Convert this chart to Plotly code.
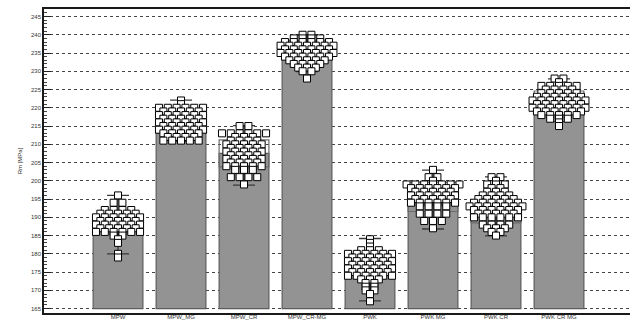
import plotly.graph_objects as go

# Tensile strength Rm per material variant
categories = ["MPW", "MPW_MG", "MPW_CR", "MPW_CR-MG", "PWK", "PWK MG", "PWK CR", "PWK CR MG"]

means = [188.3, 216.0, 207.5, 235.8, 176.2, 195.6, 191.5, 222.1]
box_half = [2.0, 3.0, 3.7, 2.5, 3.0, 4.0, 3.0, 2.5]
whisker_lo = [180.0, 210.8, 198.8, 229.9, 167.1, 186.8, 184.9, 216.2]
whisker_hi = [196.0, 222.1, 215.1, 240.0, 184.2, 202.9, 201.1, 227.9]

rm_mpw = [196, 194, 194, 192, 192, 192, 192,
          191, 191, 191, 191, 191, 190, 190, 190, 190, 190, 190,
          189, 189, 189, 189, 189, 188, 188, 188, 188, 188, 188,
          187, 187, 187, 187, 187, 186, 186, 186, 186, 186, 186,
          185, 185, 184, 183, 180, 179]
rm_mpw_mg = [222, 221, 220, 220, 220, 220, 220, 220, 219, 219, 219, 219, 219,
             218, 218, 218, 218, 218, 218, 217, 217, 217, 217, 217,
             216, 216, 216, 216, 216, 216, 215, 215, 215, 215, 215,
             214, 214, 214, 214, 214, 214, 213, 213, 213, 213, 213,
             212, 212, 212, 212, 211, 211, 211, 211, 211]
rm_mpw_cr = [215, 215, 213, 213, 213, 213, 213, 213, 212, 212, 212,
             211, 211, 211, 211, 210, 210, 210, 210, 210,
             209, 209, 209, 209, 208, 208, 208, 208, 208,
             207, 207, 207, 207, 206, 206, 206, 206, 206,
             205, 205, 205, 205, 204, 204, 204, 204, 204, 203, 203, 203,
             201, 201, 201, 201, 199]
rm_mpw_cr_mg = [240, 240, 239, 239, 239, 239, 238, 238, 238, 238, 238, 238,
                237, 237, 237, 237, 237, 237, 237, 236, 236, 236, 236, 236, 236,
                235, 235, 235, 235, 235, 235, 235, 234, 234, 234, 234, 234, 234,
                233, 233, 233, 233, 233, 232, 232, 232, 232, 231, 231, 231, 230, 230, 228]
rm_pwk = [184, 183, 182, 181, 181, 181, 180, 180, 180, 180, 180, 180,
          179, 179, 179, 179, 179, 178, 178, 178, 178, 178, 178,
          177, 177, 177, 177, 177, 176, 176, 176, 176, 176, 176,
          175, 175, 175, 175, 175, 174, 174, 174, 174, 174, 174,
          173, 173, 173, 172, 172, 171, 171, 170, 170, 169, 167]
rm_pwk_mg = [203, 201, 201, 200, 199, 199, 199, 199, 199, 199, 199,
             198, 198, 198, 198, 198, 198, 197, 197, 197, 197, 197,
             196, 196, 196, 196, 196, 196, 195, 195, 195, 195, 195,
             194, 194, 194, 194, 194, 194, 193, 193, 193, 193,
             191, 191, 191, 191, 189, 189, 189, 187]
rm_pwk_cr = [201, 201, 200, 199, 199, 199, 198, 198, 197, 197, 197,
             196, 196, 196, 196, 195, 195, 195, 195, 195,
             194, 194, 194, 194, 194, 194, 193, 193, 193, 193, 193, 193, 193,
             192, 192, 192, 192, 192, 192, 191, 191, 191, 191, 191,
             190, 190, 190, 190, 190, 190, 188, 188, 188, 188,
             187, 187, 187, 186, 186, 185]
rm_pwk_cr_mg = [228, 228, 227, 226, 226, 226, 226, 226, 225, 225, 225, 225,
                224, 224, 224, 224, 224, 223, 223, 223, 223, 223, 223,
                222, 222, 222, 222, 222, 222, 222, 221, 221, 221, 221, 221, 221,
                220, 220, 220, 220, 220, 220, 220, 219, 219, 219, 219, 219, 219,
                218, 218, 218, 218, 218, 217, 217, 217, 216, 215]

samples = [rm_mpw, rm_mpw_mg, rm_mpw_cr, rm_mpw_cr_mg,
           rm_pwk, rm_pwk_mg, rm_pwk_cr, rm_pwk_cr_mg]

Y_BASE = 165
positions = list(range(len(categories)))

fig = go.Figure()

# mean bars starting at the axis floor
fig.add_trace(go.Bar(
    x=positions, y=[m - Y_BASE for m in means], base=Y_BASE, width=0.79,
    marker=dict(color="#939393", line=dict(color="#5c5c5c", width=1.2)),
    showlegend=False, hoverinfo="skip"))

# mean +/- spread outline box
fig.add_trace(go.Bar(
    x=positions, y=[2 * h for h in box_half],
    base=[m - h for m, h in zip(means, box_half)], width=0.79,
    marker=dict(color="rgba(0,0,0,0)", line=dict(color="#6e6e6e", width=1.2)),
    showlegend=False, hoverinfo="skip"))
fig.update_layout(barmode="overlay")

# whiskers with caps
fig.add_trace(go.Scatter(
    x=positions, y=means, mode="markers",
    marker=dict(size=1, color="rgba(0,0,0,0)"),
    error_y=dict(type="data", symmetric=False,
                 array=[h - m for h, m in zip(whisker_hi, means)],
                 arrayminus=[m - l for m, l in zip(means, whisker_lo)],
                 width=11, thickness=1.3, color="#3a3a3a"),
    showlegend=False, hoverinfo="skip"))

# individual measurements, spread sideways row by row
DX = 0.14
for pos, vals in zip(positions, samples):
    rows = {}
    for v in vals:
        rows.setdefault(v, []).append(v)
    xs, ys = [], []
    for v, row in rows.items():
        n = len(row)
        for k in range(n):
            xs.append(pos + (k - (n - 1) / 2) * DX)
            ys.append(v)
    fig.add_trace(go.Scatter(
        x=xs, y=ys, mode="markers",
        marker=dict(symbol="square", size=7, color="white",
                    line=dict(color="black", width=1)),
        showlegend=False, hoverinfo="skip"))

fig.update_layout(
    width=630, height=322,
    margin=dict(l=44, r=0, t=9, b=9),
    paper_bgcolor="white", plot_bgcolor="white",
    font=dict(family="Liberation Sans, Arial, sans-serif", size=6, color="#333"),
    xaxis=dict(
        range=[-1.175, 8.127], tickmode="array", tickvals=positions,
        ticktext=categories, showgrid=False, zeroline=False, automargin=False,
        showline=True, linecolor="#1a1a1a", linewidth=2, mirror=True,
        ticks="", ticklabelstandoff=-3, tickfont=dict(size=6, color="#333")),
    yaxis=dict(
        range=[163.8, 247.05], tickmode="linear", tick0=165, dtick=5,
        showgrid=True, gridcolor="#444", griddash="dot", gridwidth=1,
        zeroline=False, showline=True, linecolor="#1a1a1a", linewidth=1.5,
        mirror=False, automargin=False, ticks="inside", ticklen=7, tickcolor="#222",
        minor=dict(dtick=1, ticks="inside", ticklen=3, tickcolor="#444", showgrid=False),
        tickfont=dict(size=6, color="#333"),
        title=dict(text="Rm [MPa]", font=dict(size=6, color="#333"), standoff=8)),
)

fig.write_html("out.html")
